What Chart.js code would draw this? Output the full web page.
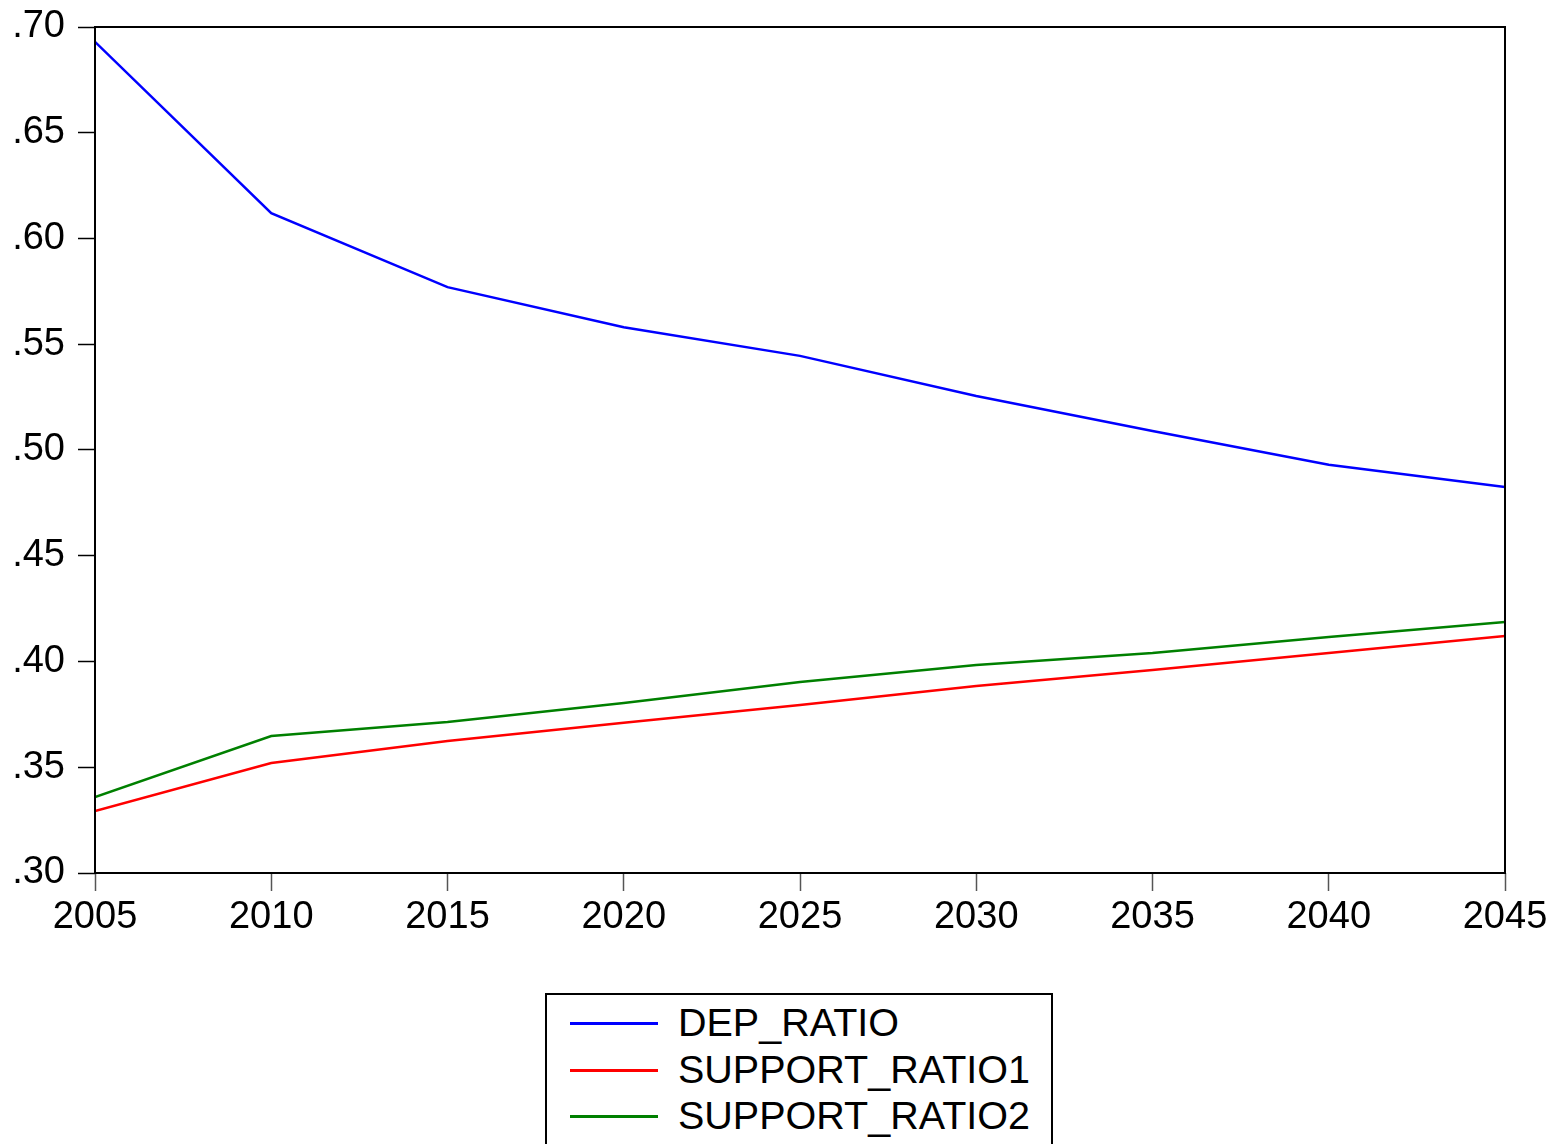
<!DOCTYPE html>
<html>
<head>
<meta charset="utf-8">
<script src="https://cdn.jsdelivr.net/npm/chart.js@4.4.1/dist/chart.umd.min.js"></script>
<style>
  html, body { margin: 0; padding: 0; background: #fff; overflow: hidden; }
  #wrap { position: relative; width: 1560px; height: 1144px; }
  #c { position: absolute; left: 0; top: 0; }
  #legend {
    position: absolute; left: 545px; top: 993px; width: 504px; height: 170px;
    border: 2px solid #000; box-sizing: content-box; background: #fff;
    font-family: "Liberation Sans", Arial, sans-serif; font-size: 39.5px; color: #000;
  }
  .row { position: absolute; left: 0; height: 46px; }
  .swatch { position: absolute; left: 23px; width: 88px; height: 3px; }
  .lbl { position: absolute; left: 131px; white-space: nowrap; line-height: 46px; }
</style>
</head>
<body>
<div id="wrap">
  <canvas id="c" width="1560" height="1144"></canvas>
  <div id="legend"></div>
</div>
<script>
const years = [2005, 2010, 2015, 2020, 2025, 2030, 2035, 2040, 2045];
const depRatio = [0.693, 0.612, 0.577, 0.558, 0.5445, 0.5255, 0.509, 0.493, 0.4825];
const supportRatio1 = [0.3293, 0.352, 0.3624, 0.371, 0.3794, 0.3884, 0.396, 0.404, 0.4121];
const supportRatio2 = [0.3359, 0.3648, 0.3714, 0.3804, 0.3903, 0.3983, 0.404, 0.4116, 0.4187];
const seriesNames = ["DEP_RATIO", "SUPPORT_RATIO1", "SUPPORT_RATIO2"];
const seriesColors = ["#0000ff", "#ff0000", "#008000"];
const yTicks = [0.30, 0.35, 0.40, 0.45, 0.50, 0.55, 0.60, 0.65, 0.70];

const seriesValues = [depRatio, supportRatio1, supportRatio2];
const datasets = seriesValues.map((vals, k) => ({
  label: seriesNames[k],
  data: years.map((yr, i) => ({ x: yr, y: vals[i] })),
  borderColor: seriesColors[k],
  borderWidth: 2.5,
  pointRadius: 0,
  tension: 0,
  fill: false
}));

const frame = {
  id: 'frame',
  afterDatasetsDraw(chart) {
    const { ctx, chartArea: a } = chart;
    ctx.save();
    ctx.strokeStyle = '#000';
    ctx.lineWidth = 2;
    ctx.strokeRect(a.left, a.top, a.right - a.left, a.bottom - a.top);
    ctx.restore();
  }
};

const font = { family: '"Liberation Sans", Arial, sans-serif', size: 38 };

new Chart(document.getElementById('c'), {
  type: 'line',
  data: { datasets },
  options: {
    responsive: false,
    animation: false,
    devicePixelRatio: 1,
    layout: { padding: { top: 27, right: 55, left: 0, bottom: 0 } },
    plugins: { legend: { display: false }, tooltip: { enabled: false } },
    scales: {
      x: {
        type: 'linear',
        min: 2005, max: 2045,
        afterBuildTicks(s) { s.ticks = years.map(v => ({ value: v })); },
        afterFit(s) { s.height = 271; s.paddingLeft = 0; s.paddingRight = 0; },
        grid: { drawOnChartArea: false, drawTicks: true, tickLength: 18, tickColor: '#555', tickWidth: 1.5 },
        border: { display: false },
        ticks: { color: '#000', font, padding: 4, maxRotation: 0, autoSkip: false,
                 callback: v => String(v) }
      },
      y: {
        type: 'linear',
        min: 0.30, max: 0.70,
        afterBuildTicks(s) { s.ticks = yTicks.map(v => ({ value: v })); },
        afterFit(s) { s.width = 95; s.paddingTop = 0; s.paddingBottom = 0; },
        grid: { drawOnChartArea: false, drawTicks: true, tickLength: 17, tickColor: '#000', tickWidth: 1.5 },
        border: { display: false },
        ticks: { color: '#000', font, padding: 13, autoSkip: false,
                 callback: v => v.toFixed(2).replace(/^0/, '') }
      }
    }
  },
  plugins: [frame]
});

const leg = document.getElementById('legend');
seriesNames.forEach((name, k) => {
  const row = document.createElement('div');
  row.className = 'row';
  row.style.top = (4 + k * 46.5) + 'px';
  row.style.width = '100%';
  const sw = document.createElement('div');
  sw.className = 'swatch';
  sw.style.background = seriesColors[k];
  sw.style.top = '23px';
  const lb = document.createElement('div');
  lb.className = 'lbl';
  lb.style.top = '0px';
  lb.textContent = name;
  row.appendChild(sw); row.appendChild(lb);
  leg.appendChild(row);
});
</script>
</body>
</html>
